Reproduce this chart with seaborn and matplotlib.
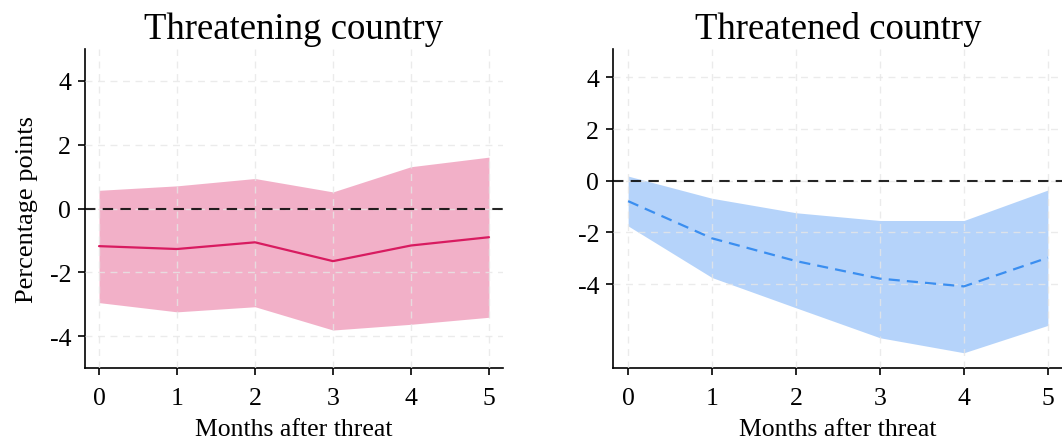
import numpy as np
import pandas as pd
import matplotlib
matplotlib.use("Agg")
import matplotlib.pyplot as plt
import seaborn as sns

# Months after threat
months = [0, 1, 2, 3, 4, 5]

# Threatening country: point estimate and 95% band
threatening_est = [-1.18, -1.27, -1.06, -1.65, -1.16, -0.90]
threatening_hi = [0.57, 0.71, 0.94, 0.52, 1.31, 1.61]
threatening_lo = [-2.95, -3.24, -3.08, -3.81, -3.63, -3.41]

# Threatened country: point estimate and 95% band
threatened_est = [-0.79, -2.23, -3.11, -3.79, -4.09, -2.98]
threatened_hi = [0.18, -0.68, -1.24, -1.54, -1.54, -0.36]
threatened_lo = [-1.75, -3.75, -4.92, -6.08, -6.66, -5.60]

yticks = [-4, -2, 0, 2, 4]

sns.set_theme(style="white")
plt.rcParams["font.family"] = ["Liberation Serif", "DejaVu Serif"]
plt.rcParams["text.color"] = "black"
plt.rcParams["axes.labelcolor"] = "black"
plt.rcParams["xtick.color"] = "black"
plt.rcParams["ytick.color"] = "black"

fig = plt.figure(figsize=(10.62, 4.39), dpi=100)
W, H = 1062, 439
ax1 = fig.add_axes([85 / W, 1 - 369 / H, (503 - 85) / W, (369 - 50) / H])
ax2 = fig.add_axes([613 / W, 1 - 369 / H, (1063 - 613) / W, (369 - 50) / H])

panels = [
    (ax1, "Threatening country", threatening_est, threatening_lo, threatening_hi,
     "#e8709c", 0.55, "#d81b60", "-", (-5, 5)),
    (ax2, "Threatened country", threatened_est, threatened_lo, threatened_hi,
     "#8fbdf8", 0.66, "#3a8ef0", (0, (5, 3.2)), (-7.25, 5.1)),
]

for ax, title, est, lo, hi, fill_c, fill_a, line_c, ls, ylim in panels:
    df = pd.DataFrame({"month": months, "est": est, "lo": lo, "hi": hi})
    ax.fill_between(df["month"], df["lo"], df["hi"], color=fill_c, alpha=fill_a,
                    linewidth=0, zorder=1)
    ax.set_axisbelow(False)
    ax.grid(True, color="#e6e6e6", linestyle=(0, (5, 4)), linewidth=1.0, zorder=2, alpha=0.8)
    sns.lineplot(data=df, x="month", y="est", ax=ax, color=line_c, linewidth=1.6,
                 linestyle=ls, zorder=4)
    ax.axhline(0, color="black", linestyle=(0, (5, 3.5)), linewidth=1.5, zorder=3, alpha=0.85)
    ax.set_xlim(-0.18, 5.18)
    ax.set_ylim(*ylim)
    ax.set_xticks(months)
    ax.set_yticks(yticks)
    ax.set_yticklabels([str(t) for t in yticks])
    ax.set_title(title, fontsize=26.5, pad=8)
    ax.set_xlabel("Months after threat", fontsize=18.5, labelpad=6)
    ax.set_ylabel("")
    for side in ["top", "right"]:
        ax.spines[side].set_visible(False)
    for side in ["left", "bottom"]:
        ax.spines[side].set_color("black")
        ax.spines[side].set_linewidth(1.2)
    ax.tick_params(axis="both", which="both", direction="out", length=5, width=1.2,
                   color="black", labelsize=18.5, left=True, bottom=True, pad=5)
    ax.tick_params(axis="x", pad=9)

ax1.set_ylabel("Percentage points", fontsize=19, labelpad=8)

fig.savefig("out.png", dpi=100)
